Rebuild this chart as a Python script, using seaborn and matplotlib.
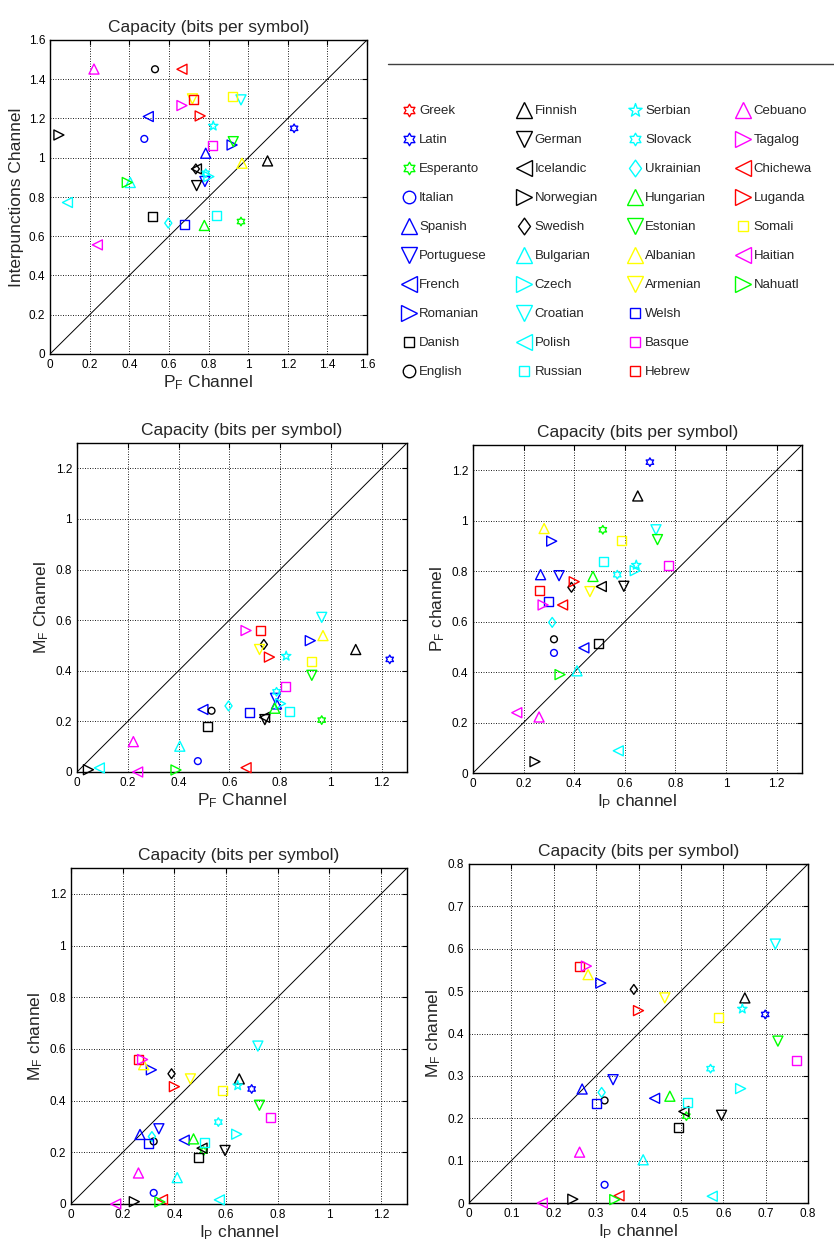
import numpy as np
import pandas as pd
import matplotlib
matplotlib.use("Agg")
import matplotlib.pyplot as plt
import seaborn as sns
from matplotlib.lines import Line2D
from matplotlib.path import Path
from matplotlib.ticker import MultipleLocator, FuncFormatter

languages = ["Greek", "Latin", "Esperanto", "Italian", "Spanish", "Portuguese", "French",
             "Romanian", "Danish", "English", "Finnish", "German", "Icelandic", "Norwegian",
             "Swedish", "Bulgarian", "Czech", "Croatian", "Polish", "Russian", "Serbian",
             "Slovack", "Ukrainian", "Hungarian", "Estonian", "Albanian", "Armenian", "Welsh",
             "Basque", "Hebrew", "Cebuano", "Tagalog", "Chichewa", "Luganda", "Somali",
             "Haitian", "Nahuatl"]
color_codes = ["r", "b", "g", "b", "b", "b", "b", "b", "k", "k",
               "k", "k", "k", "k", "k", "c", "c", "c", "c", "c",
               "c", "c", "c", "g", "g", "y", "y", "b", "m", "r",
               "m", "m", "r", "r", "y", "m", "g"]
marker_codes = ["hex", "hex", "hex", "o", "^", "v", "<", ">", "s", "o",
                "^", "v", "<", ">", "d", "^", ">", "v", "<", "s",
                "star", "hex", "d", "^", "v", "^", "v", "s", "s", "s",
                "^", ">", "<", ">", "s", "<", ">"]

# capacities (bits per symbol)
pf_channel = [np.nan, 1.232, 0.964, 0.476, 0.786, 0.782, 0.496, 0.919, 0.515, 0.530,
              1.098, 0.740, 0.739, 0.045, 0.736, 0.405, 0.802, 0.964, 0.088, 0.838,
              0.824, 0.786, 0.597, 0.779, 0.925, 0.969, 0.719, 0.678, 0.822, 0.724,
              0.222, 0.666, 0.666, 0.758, 0.922, 0.239, 0.390]
interp_channel = [np.nan, 1.150, 0.675, 1.096, 1.023, 0.879, 1.210, 1.065, 0.701, 1.451,
                  0.984, 0.858, 0.943, 1.116, 0.943, 0.874, 0.904, 1.295, 0.772, 0.704,
                  1.162, 0.921, 0.667, 0.655, 1.082, 0.972, 1.300, 0.662, 1.062, 1.298,
                  1.452, 1.266, 1.451, 1.213, 1.311, 0.556, 0.874]
ip_channel = [np.nan, 0.699, 0.513, 0.320, 0.267, 0.340, 0.438, 0.311, 0.495, 0.320,
              0.651, 0.596, 0.507, 0.245, 0.389, 0.411, 0.641, 0.723, 0.574, 0.515,
              0.645, 0.570, 0.313, 0.474, 0.729, 0.281, 0.462, 0.300, 0.773, 0.261,
              0.261, 0.277, 0.354, 0.400, 0.588, 0.173, 0.344]
mf_channel = [np.nan, 0.445, 0.205, 0.043, 0.269, 0.291, 0.247, 0.519, 0.179, 0.242,
              0.484, 0.207, 0.216, 0.009, 0.504, 0.102, 0.270, 0.611, 0.016, 0.238,
              0.458, 0.317, 0.261, 0.252, 0.382, 0.539, 0.484, 0.234, 0.336, 0.559,
              0.120, 0.559, 0.017, 0.454, 0.438, 0.000, 0.008]

title_text = "Capacity (bits per symbol)"

matlab_colors = {"r": "#FF0000", "b": "#0000FF", "g": "#00FF00", "c": "#00FFFF",
                 "m": "#FF00FF", "y": "#FFFF00", "k": "#000000"}


def star_path(npts, inner):
    ang = np.pi / 2 + np.arange(2 * npts) * np.pi / npts
    rad = np.where(np.arange(2 * npts) % 2 == 0, 1.0, inner)
    verts = np.column_stack([rad * np.cos(ang), rad * np.sin(ang)])
    verts = np.vstack([verts, verts[:1]])
    return Path(verts, closed=True)


diamond_path = Path([(0, 1), (0.72, 0), (0, -1), (-0.72, 0), (0, 1)], closed=True)

marker_shapes = {"hex": star_path(6, 0.577), "star": star_path(5, 0.40), "o": "o",
                 "^": "^", "v": "v", "<": "<", ">": ">", "s": "s", "d": diamond_path}
marker_area = {"hex": 38, "star": 50, "o": 24, "^": 52, "v": 52, "<": 52, ">": 52,
               "s": 42, "d": 50}
legend_ms = {"hex": 9, "star": 10, "o": 9, "^": 11, "v": 11, "<": 11, ">": 11,
             "s": 6.5, "d": 12}

df = pd.DataFrame({"lang": languages, "PF": pf_channel, "INT": interp_channel,
                   "IP": ip_channel, "MF": mf_channel})

palette = {l: matlab_colors[c] for l, c in zip(languages, color_codes)}
markers = {l: marker_shapes[m] for l, m in zip(languages, marker_codes)}
sizes = {l: marker_area[m] for l, m in zip(languages, marker_codes)}

sns.set_style("white")
plt.rcParams["font.family"] = ["Liberation Sans", "DejaVu Sans"]
plt.rcParams["mathtext.default"] = "regular"

W, H = 834, 1247
fig = plt.figure(figsize=(W / 100, H / 100), dpi=100)


def box(l, t, r, b):
    return [l / W, 1 - b / H, (r - l) / W, (b - t) / H]


def panel(rect, xcol, ycol, lim, step, xlabel, ylabel):
    ax = fig.add_axes(rect)
    sns.scatterplot(data=df.dropna(), x=xcol, y=ycol, hue="lang", style="lang",
                    size="lang", palette=palette, markers=markers, sizes=sizes,
                    hue_order=languages, style_order=languages, size_order=languages,
                    legend=False, ax=ax, linewidth=1.0, zorder=4)
    for coll in ax.collections:
        coll.set_edgecolors(coll.get_facecolors())
        coll.set_facecolors("none")
        coll.set_linewidths(1.0)
        coll.set_clip_on(False)
    ax.axline((0, 0), slope=1, color="black", lw=0.7, zorder=3)
    ax.set_xlim(0, lim)
    ax.set_ylim(0, lim)
    ax.xaxis.set_major_locator(MultipleLocator(step))
    ax.yaxis.set_major_locator(MultipleLocator(step))
    fmt = FuncFormatter(lambda v, p: "%g" % round(v, 3))
    ax.xaxis.set_major_formatter(fmt)
    ax.yaxis.set_major_formatter(fmt)
    ax.grid(True, color="black", linestyle=(0, (1.2, 1.8)), linewidth=0.6)
    ax.tick_params(direction="in", length=3.5, width=0.8, labelsize=8.5,
                   top=True, right=True, colors="black", pad=3.5)
    for s in ax.spines.values():
        s.set_color("black")
        s.set_linewidth(1.0)
    ax.set_xlabel(xlabel, fontsize=12.5, labelpad=2)
    ax.set_ylabel(ylabel, fontsize=12.5, labelpad=3)
    ax.set_title(title_text, fontsize=12.5, pad=6)
    return ax


panel(box(50, 40, 367, 354), "PF", "INT", 1.6, 0.2, "P$_{F}$ Channel", "Interpunctions Channel")
panel(box(77, 443, 407, 772), "PF", "MF", 1.3, 0.2, "P$_{F}$ Channel", "M$_{F}$ Channel")
panel(box(473, 445, 802, 773), "IP", "PF", 1.3, 0.2, "I$_{P}$ channel", "P$_{F}$ channel")
panel(box(71, 868, 407, 1204), "IP", "MF", 1.3, 0.2, "I$_{P}$ channel", "M$_{F}$ channel")
panel(box(469, 864, 808, 1203), "IP", "MF", 0.8, 0.1, "I$_{P}$ channel", "M$_{F}$ channel")

handles = [Line2D([], [], linestyle="none", marker=marker_shapes[m],
                  markerfacecolor="none", markeredgecolor=matlab_colors[c],
                  markeredgewidth=1.0, markersize=legend_ms[m])
           for c, m in zip(color_codes, marker_codes)]
labels = list(languages)
# blank slots so that columns hold 10, 10, 10 and 7 entries
for _ in range(3):
    handles.append(Line2D([], [], linestyle="none", marker=None))
    labels.append("")
fig.legend(handles, labels, ncol=4, loc="upper left",
           bbox_to_anchor=(402 / W, 1 - 105 / H), bbox_transform=fig.transFigure,
           frameon=False, fontsize=9.5, handlelength=1.0, handletextpad=0.3,
           columnspacing=2.3, labelspacing=1.27, borderpad=0, borderaxespad=0)
fig.add_artist(Line2D([388 / W, 1.0], [1 - 64 / H, 1 - 64 / H], transform=fig.transFigure,
                      color="#404040", lw=1.0))

fig.savefig("out.png", dpi=100)
